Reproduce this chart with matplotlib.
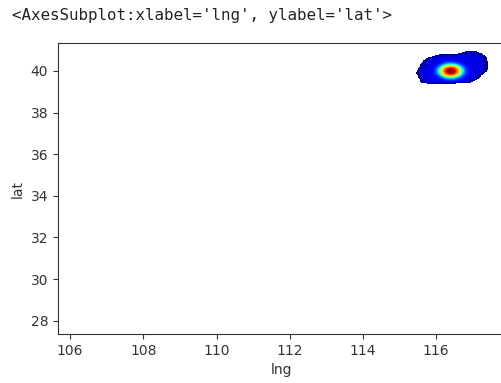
import numpy as np
import matplotlib
matplotlib.use("Agg")
import matplotlib.pyplot as plt

# grid of the density blob (lng 115.4..117.5, lat 39.3..41.0)
lng = [115.4, 115.5, 115.6, 115.7, 115.8, 115.9, 116.0, 116.1, 116.2, 116.3, 116.4,
       116.5, 116.6, 116.7, 116.8, 116.9, 117.0, 117.1, 117.2, 117.3, 117.4, 117.5]
lat = [39.3, 39.4, 39.5, 39.6, 39.7, 39.8, 39.9, 40.0, 40.1, 40.2,
       40.3, 40.4, 40.5, 40.6, 40.7, 40.8, 40.9, 41.0]

# density rows, bottom (39.3) to top (41.0)
density = [
    [0, 0, 0, 0, 0, 0, 0, 0, 0, 0, 0, 0, 0, 0, 0, 0, 0, 0, 0, 0, 0, 0],
    [0, 0, 3, 3, 3, 3, 3, 3, 3, 3, 3, 3, 0, 0, 0, 0, 0, 0, 0, 0, 0, 0],
    [0, 0, 6, 10, 14, 14, 14, 14, 15, 16, 16, 16, 15, 14, 14, 10, 4, 0, 0, 0, 0, 0],
    [0, 0, 7, 10, 14, 14, 14, 16, 19, 22, 23, 22, 19, 16, 14, 14, 10, 4, 0, 0, 0, 0],
    [0, 3, 10, 14, 14, 14, 16, 21, 29, 40, 45, 40, 29, 21, 16, 14, 14, 10, 4, 0, 0, 0],
    [0, 3, 10, 14, 14, 15, 19, 29, 50, 68, 74, 68, 50, 29, 19, 15, 14, 10, 6, 0, 0, 0],
    [0, 7, 10, 14, 14, 16, 22, 40, 68, 87, 94, 87, 68, 40, 22, 16, 14, 14, 10, 5, 0, 0],
    [0, 5, 10, 14, 14, 16, 23, 45, 74, 94, 100, 94, 74, 45, 23, 16, 14, 14, 14, 9, 3, 0],
    [0, 4, 10, 14, 14, 16, 22, 40, 68, 87, 94, 87, 68, 40, 22, 16, 14, 14, 14, 10, 5, 0],
    [0, 0, 6, 10, 14, 15, 19, 29, 50, 68, 74, 68, 50, 29, 19, 15, 14, 14, 14, 10, 5, 0],
    [0, 0, 6, 10, 14, 14, 16, 21, 29, 40, 45, 40, 29, 21, 16, 14, 14, 14, 14, 10, 5, 0],
    [0, 0, 3, 10, 14, 14, 14, 16, 19, 22, 23, 22, 19, 16, 14, 14, 14, 14, 14, 10, 5, 0],
    [0, 0, 0, 7, 10, 14, 14, 14, 15, 16, 16, 16, 15, 14, 14, 14, 14, 14, 14, 10, 4, 0],
    [0, 0, 0, 0, 8, 10, 14, 14, 14, 14, 14, 14, 14, 14, 14, 14, 14, 14, 13, 9, 4, 0],
    [0, 0, 0, 0, 0, 3, 8, 11, 14, 14, 14, 14, 14, 14, 14, 14, 14, 14, 11, 8, 0, 0],
    [0, 0, 0, 0, 0, 0, 0, 3, 4, 4, 4, 4, 6, 10, 10, 10, 10, 10, 8, 2, 0, 0],
    [0, 0, 0, 0, 0, 0, 0, 0, 0, 0, 0, 0, 0, 0, 6, 7, 7, 6, 0, 0, 0, 0],
    [0, 0, 0, 0, 0, 0, 0, 0, 0, 0, 0, 0, 0, 0, 0, 0, 0, 0, 0, 0, 0, 0],
]

xticks = [106, 108, 110, 112, 114, 116]
yticks = [28, 30, 32, 34, 36, 38, 40]

fig = plt.figure(figsize=(5.01, 3.83), dpi=100)
W, H = 501, 383
ax = fig.add_axes([58 / W, 49 / H, (505 - 58) / W, 291 / H])

levels = np.linspace(5, 100, 40)
ax.contourf(lng, lat, np.array(density), levels=levels, cmap="jet", vmin=5, vmax=100)

ax.set_xlim(105.67, 117.88)
ax.set_ylim(27.36, 41.345)
ax.set_xticks(xticks)
ax.set_yticks(yticks)
ax.tick_params(colors="#333333", labelcolor="#333333")
for s in ax.spines.values():
    s.set_color("#333333")
ax.set_xlabel("lng", color="#333333")
ax.set_ylabel("lat", color="#333333")

fig.text(12 / W, 1 - 15.5 / H, "<AxesSubplot:xlabel='lng', ylabel='lat'>",
         family="DejaVu Sans Mono", fontsize=11.4, va="center", ha="left", color="#222222")

fig.savefig("out.png", dpi=100)
